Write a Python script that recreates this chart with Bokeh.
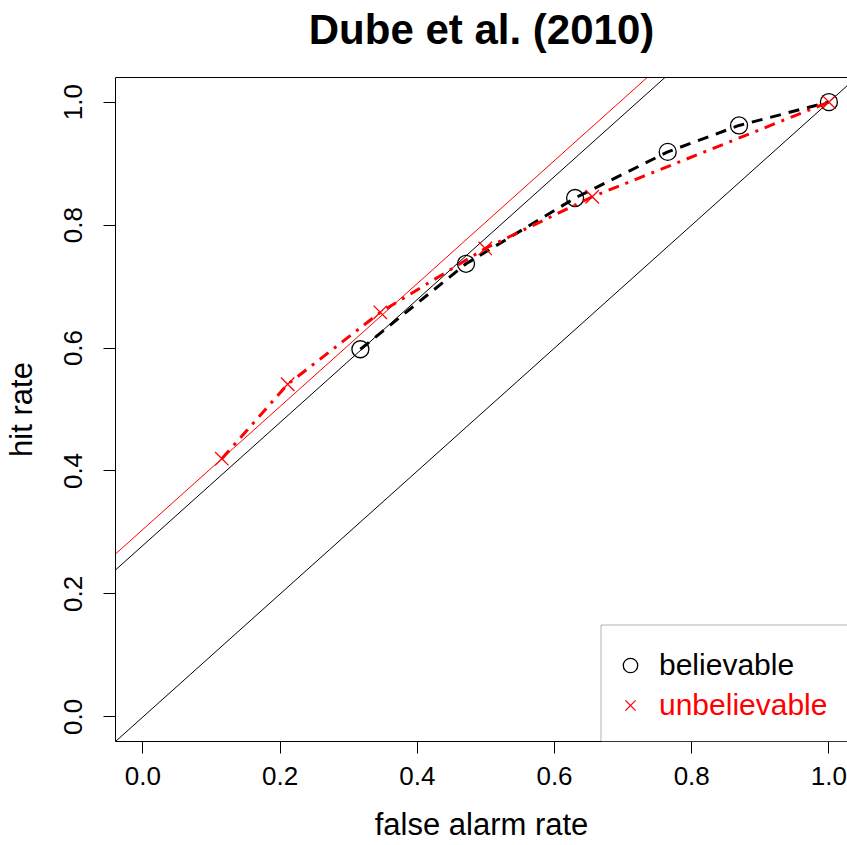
from bokeh.plotting import figure
from bokeh.models import (Range1d, FixedTicker, LinearAxis, Slope, Legend, LegendItem,
                          BoxAnnotation, PrintfTickFormatter, Title)
from bokeh.embed import file_html
from bokeh.resources import INLINE

# ---------------- data ----------------
title_text = "Dube et al. (2010)"
x_label = "false alarm rate"
y_label = "hit rate"
series_names = ["believable", "unbelievable"]

believable_far = [0.317, 0.471, 0.630, 0.765, 0.869, 1.0]
believable_hr = [0.598, 0.737, 0.844, 0.919, 0.962, 1.0]
unbelievable_far = [0.115, 0.211, 0.346, 0.499, 0.655, 1.0]
unbelievable_hr = [0.420, 0.541, 0.658, 0.762, 0.846, 1.0]

ref_slope = 1.0
ref_intercepts = [0.0, 0.279, 0.305]     # chance line, believable fit, unbelievable fit
ref_colors = ["black", "black", "red"]

tick_values = [0.0, 0.2, 0.4, 0.6, 0.8, 1.0]
tick_labels = ["0.0", "0.2", "0.4", "0.6", "0.8", "1.0"]

FONT = "Liberation Sans"
W, H = 847, 845
LEFT, TOP, BOTTOM = 115, 77, 104

# ---------------- figure ----------------
p = figure(width=W, height=H,
           x_range=Range1d(-0.04, 1.0271), y_range=Range1d(-0.04, 1.04),
           output_backend="svg", toolbar_location=None, title=None,
           min_border_left=LEFT, min_border_right=0, min_border_top=TOP,
           min_border_bottom=BOTTOM,
           x_axis_label=x_label, y_axis_label=y_label)
p.outline_line_color = None
p.grid.visible = False
p.background_fill_color = "white"
p.border_fill_color = "white"

for ax in (p.xaxis[0], p.yaxis[0]):
    ax.ticker = FixedTicker(ticks=tick_values)
    ax.formatter = PrintfTickFormatter(format="%.1f")
    ax.major_label_overrides = dict(zip(tick_values, tick_labels))
    ax.axis_line_color = "black"
    ax.axis_line_width = 1
    ax.major_tick_line_color = "black"
    ax.major_tick_line_width = 1
    ax.major_tick_out = 12
    ax.major_tick_in = 0
    ax.minor_tick_line_color = None
    ax.major_label_text_font = FONT
    ax.major_label_text_font_size = "26px"
    ax.major_label_text_color = "black"
    ax.axis_label_text_font = FONT
    ax.axis_label_text_font_size = "31px"
    ax.axis_label_text_font_style = "normal"
    ax.axis_label_text_color = "black"

p.xaxis[0].major_label_standoff = 13
p.xaxis[0].axis_label_standoff = 19
p.yaxis[0].major_label_orientation = "vertical"
p.yaxis[0].major_label_standoff = 21
p.yaxis[0].axis_label_standoff = 23

# top border of the plot box; its (invisible) tick space lifts the title as in R
top_axis = LinearAxis(ticker=FixedTicker(ticks=[0.5]), major_tick_out=24, major_tick_in=0,
                      major_tick_line_color="white", major_tick_line_alpha=0.01,
                      minor_tick_line_color=None, minor_tick_out=0, minor_tick_in=0,
                      major_label_standoff=0, major_label_text_color=None,
                      major_label_text_font_size="1px",
                      axis_line_color="black", axis_line_width=1)
p.add_layout(top_axis, "above")

title = Title(text=title_text, align="center", vertical_align="bottom",
              text_font=FONT, text_font_size="42px", text_font_style="bold",
              text_color="black", standoff=2)
p.add_layout(title, "above")

# reference lines
for b, c in zip(ref_intercepts, ref_colors):
    p.add_layout(Slope(gradient=ref_slope, y_intercept=b, line_color=c,
                       line_width=1, level="underlay"))

# data
p.line(believable_far, believable_hr, line_color="black", line_width=3, line_dash="11 8")
s1 = p.scatter(believable_far, believable_hr, marker="circle", size=17,
               fill_color=None, line_color="black", line_width=1.3)
p.line(unbelievable_far, unbelievable_hr, line_color="red", line_width=3,
       line_dash="11 7 3 7")
s2 = p.scatter(unbelievable_far, unbelievable_hr, marker="x", size=19,
               line_color="red", line_width=1.3)

# legend box
box = BoxAnnotation(left=600.5, right=900, top=624.5, bottom=H - BOTTOM,
                    left_units="canvas", right_units="canvas",
                    top_units="canvas", bottom_units="canvas",
                    fill_color="white", fill_alpha=1.0,
                    line_color="black", line_width=1)
p.add_layout(box)

common = dict(orientation="vertical", padding=0, margin=0, spacing=0,
              glyph_width=36, glyph_height=40, label_height=40, label_standoff=11,
              label_text_font=FONT, label_text_font_size="30px",
              border_line_color=None, background_fill_alpha=0.0)
legA = Legend(items=[LegendItem(label=series_names[0], renderers=[s1])],
              location=(497, 56), label_text_color="black", **common)
legB = Legend(items=[LegendItem(label=series_names[1], renderers=[s2])],
              location=(497, 16), label_text_color="red", **common)
p.add_layout(legA)
p.add_layout(legB)

open("out.html", "w").write(file_html(p, INLINE))
